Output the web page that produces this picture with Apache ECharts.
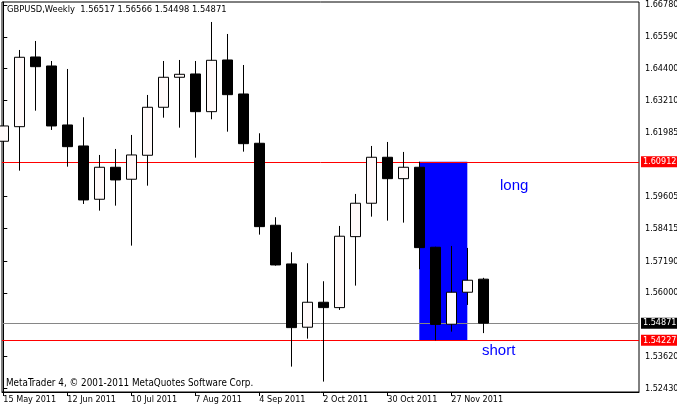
<!DOCTYPE html>
<html>
<head>
<meta charset="utf-8">
<script src="https://cdn.jsdelivr.net/npm/echarts@6/dist/echarts.min.js"></script>
<style>
html,body{margin:0;padding:0;background:#fff;}
#c{width:677px;height:408px;}
</style>
</head>
<body>
<div id="c"></div>
<script>
const dates = ['15 May 2011','22 May 2011','29 May 2011','5 Jun 2011','12 Jun 2011','19 Jun 2011','26 Jun 2011','3 Jul 2011','10 Jul 2011','17 Jul 2011','24 Jul 2011','31 Jul 2011','7 Aug 2011','14 Aug 2011','21 Aug 2011','28 Aug 2011','4 Sep 2011','11 Sep 2011','18 Sep 2011','25 Sep 2011','2 Oct 2011','9 Oct 2011','16 Oct 2011','23 Oct 2011','30 Oct 2011','6 Nov 2011','13 Nov 2011','20 Nov 2011','27 Nov 2011','4 Dec 2011','11 Dec 2011'];
const opens  = [1.61679,1.62225,1.64834,1.64497,1.62289,1.61503,1.59508,1.60706,1.60257,1.61155,1.62951,1.64074,1.64198,1.62787,1.64722,1.63449,1.61604,1.58535,1.57087,1.54718,1.55653,1.55452,1.58109,1.59359,1.61080,1.60279,1.60706,1.57712,1.54830,1.56028,1.56517];
const highs  = [1.63037,1.65096,1.65433,1.64684,1.64385,1.62577,1.61166,1.61391,1.61915,1.63412,1.64684,1.64722,1.64684,1.66144,1.65695,1.64534,1.61978,1.58835,1.57525,1.57113,1.56439,1.58509,1.59707,1.61503,1.61653,1.61279,1.60912,1.57730,1.57760,1.57686,1.56566];
const lows   = [1.60979,1.60579,1.62824,1.62102,1.60728,1.59332,1.59082,1.59269,1.57772,1.60017,1.62562,1.62188,1.61065,1.62502,1.62038,1.61290,1.58184,1.57023,1.53243,1.54291,1.52682,1.55365,1.56275,1.58857,1.58708,1.58633,1.56889,1.54227,1.54553,1.55552,1.54498];
const closes = [1.62252,1.64823,1.64471,1.62252,1.61477,1.59482,1.60706,1.60231,1.61166,1.62951,1.64074,1.64186,1.62787,1.64710,1.63423,1.61589,1.58483,1.57049,1.54703,1.55653,1.55452,1.58124,1.59359,1.61080,1.60279,1.60706,1.57697,1.54823,1.56028,1.56477,1.54871];
const priceTicks = [1.66780,1.65590,1.64400,1.63210,1.61985,1.59605,1.58415,1.57190,1.56000,1.53620,1.52430];
const dateTickIdx = [0,4,8,12,16,20,24,28];
const levelHigh = 1.60912, levelLow = 1.54227, bidPrice = 1.54871;
const boxFrom = 26, boxTo = 29;
const titleText = 'GBPUSD,Weekly  1.56517 1.56566 1.54498 1.54871';
const copyright = 'MetaTrader 4, \u00a9 2001-2011 MetaQuotes Software Corp.';

const FONT = '"DejaVu Sans Condensed", "DejaVu Sans", "Liberation Sans", sans-serif';
const candleData = opens.map((o, i) => [i, o, closes[i], lows[i], highs[i]]);

const chart = echarts.init(document.getElementById('c'), null, {renderer: 'canvas'});
chart.setOption({
  backgroundColor: '#ffffff',
  animation: false,
  title: {
    text: titleText, left: 7, top: 5, padding: 0,
    textStyle: {fontSize: 9.3, fontWeight: 'normal', color: '#000', fontFamily: FONT}
  },
  grid: {left: 2, top: 2, right: 38, bottom: 16, containLabel: false, outerBoundsMode: 'none',
         show: true, borderColor: '#000', borderWidth: 1, backgroundColor: 'transparent'},
  xAxis: {
    type: 'value', min: -0.081, max: 39.73,
    axisLine: {show: true, lineStyle: {color: '#000', width: 1}},
    axisTick: {show: true, length: 4, lineStyle: {color: '#000'}, customValues: dateTickIdx},
    axisLabel: {
      show: true, customValues: dateTickIdx, align: 'left', margin: 3,
      color: '#000', fontSize: 9, fontFamily: FONT,
      formatter: v => dates[Math.round(v)] || ''
    },
    splitLine: {show: false}
  },
  yAxis: {
    type: 'value', position: 'right', min: 1.52293, max: 1.66892,
    axisLine: {show: true, lineStyle: {color: '#000', width: 1}},
    axisTick: {show: true, length: 4, lineStyle: {color: '#000'}, customValues: priceTicks},
    axisLabel: {
      show: true, customValues: priceTicks, margin: 6,
      color: '#000', fontSize: 9, fontFamily: FONT,
      formatter: v => v.toFixed(5)
    },
    splitLine: {show: false}
  },
  series: [
    {
      type: 'line', data: [], z: 1, silent: true,
      markArea: {
        z: 1, silent: true,
        itemStyle: {color: '#0000ff', opacity: 1},
        label: {show: false},
        data: [[{coord: [boxFrom, levelHigh]}, {coord: [boxTo, levelLow]}]]
      },
      markLine: {
        z: 5, silent: true, symbol: 'none', animation: false, precision: 5,
        label: {
          show: true, position: 'end', distance: 2,
          fontSize: 9, fontFamily: FONT, color: '#fff',
          padding: [1, 1, 0, 2], lineHeight: 10
        },
        data: [
          {yAxis: levelHigh, lineStyle: {color: '#ff0000', width: 1, type: 'solid'},
           label: {backgroundColor: '#ff0000', formatter: levelHigh.toFixed(5)}},
          {yAxis: levelLow, lineStyle: {color: '#ff0000', width: 1, type: 'solid'},
           label: {backgroundColor: '#ff0000', formatter: levelLow.toFixed(5)}},
          {yAxis: bidPrice, lineStyle: {color: '#868686', width: 1, type: 'solid'},
           label: {backgroundColor: '#000000', formatter: bidPrice.toFixed(5)}}
        ]
      }
    },
    {
      type: 'candlestick', z: 10, barWidth: 11,
      encode: {x: 0, y: [1, 2, 3, 4]},
      data: candleData,
      itemStyle: {
        color: '#fffafa', color0: '#000000',
        borderColor: '#000000', borderColor0: '#000000', borderColorDoji: '#000000',
        borderWidth: 1
      }
    }
  ],
  graphic: [
    {type: 'text', x: 6, y: 383, z: 20, style: {text: copyright, fill: '#000', font: '9.8px ' + FONT, verticalAlign: 'middle'}},
    {type: 'text', x: 500, y: 186, z: 20, style: {text: 'long', fill: '#0000ff', font: '15px "Liberation Sans", Arial, sans-serif', verticalAlign: 'middle'}},
    {type: 'text', x: 482, y: 351, z: 20, style: {text: 'short', fill: '#0000ff', font: '15px "Liberation Sans", Arial, sans-serif', verticalAlign: 'middle'}}
  ]
});
</script>
</body>
</html>
